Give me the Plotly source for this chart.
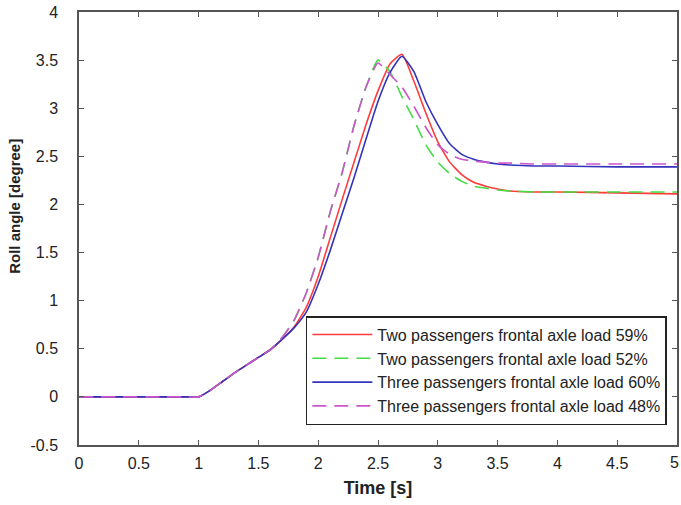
import plotly.graph_objects as go

time = [0.0, 0.9, 1.0, 1.1, 1.2, 1.3, 1.4, 1.5, 1.6, 1.7, 1.8, 1.9, 2.0, 2.1, 2.2, 2.3, 2.4,
        2.5, 2.6, 2.7, 2.8, 2.9, 3.0, 3.1, 3.2, 3.3, 3.4, 3.5, 3.6, 3.8, 4.0, 4.5, 5.0]

two_59 = [0, 0, 0, 0.07, 0.16, 0.25, 0.33, 0.41, 0.49, 0.60, 0.73, 0.93, 1.25, 1.65, 2.05, 2.44, 2.83,
          3.18, 3.46, 3.56, 3.28, 2.95, 2.65, 2.44, 2.31, 2.23, 2.19, 2.16, 2.14, 2.13, 2.13, 2.12, 2.11]
two_52 = [0, 0, 0, 0.07, 0.16, 0.25, 0.33, 0.41, 0.49, 0.62, 0.80, 1.08, 1.45, 1.92, 2.33, 2.82, 3.22,
          3.50, 3.38, 3.12, 2.88, 2.62, 2.44, 2.32, 2.24, 2.19, 2.17, 2.15, 2.14, 2.13, 2.13, 2.13, 2.13]
three_60 = [0, 0, 0, 0.07, 0.16, 0.25, 0.33, 0.41, 0.49, 0.60, 0.72, 0.88, 1.17, 1.52, 1.90, 2.28, 2.68,
            3.07, 3.37, 3.54, 3.38, 3.07, 2.83, 2.63, 2.52, 2.47, 2.44, 2.42, 2.41, 2.40, 2.40, 2.39, 2.39]
three_48 = [0, 0, 0, 0.07, 0.16, 0.25, 0.33, 0.41, 0.49, 0.62, 0.80, 1.08, 1.45, 1.92, 2.33, 2.82, 3.22,
            3.47, 3.35, 3.22, 3.02, 2.80, 2.62, 2.52, 2.47, 2.45, 2.44, 2.43, 2.43, 2.42, 2.42, 2.42, 2.42]

names = ["Two passengers frontal axle load 59%",
         "Two passengers frontal axle load 52%",
         "Three passengers frontal axle load 60%",
         "Three passengers frontal axle load 48%"]

xticks = [0, 0.5, 1, 1.5, 2, 2.5, 3, 3.5, 4, 4.5, 5]
xticklabels = ["0", "0.5", "1", "1.5", "2", "2.5", "3", "3.5", "4", "4.5", ""]
last_xtick = 5
last_xticklabel = "5"
yticks = [-0.5, 0, 0.5, 1, 1.5, 2, 2.5, 3, 3.5, 4]
yticklabels = ["-0.5", "0", "0.5", "1", "1.5", "2", "2.5", "3", "3.5", "4"]

series = [two_59, two_52, three_60, three_48]
colors = ["#ff3b3b", "#44dd44", "#3333bb", "#cc55cc"]
dashes = ["solid", "14px,8px", "solid", "14px,8px"]

FONT = "Liberation Sans, Arial"
TXT = "#222222"

fig = go.Figure()
for vals, name, c, d in zip(series, names, colors, dashes):
    fig.add_trace(go.Scatter(x=time, y=vals, mode="lines", name=name,
                             line=dict(color=c, width=1.6, dash=d, shape="spline", smoothing=0.5)))

axis_common = dict(showgrid=False, zeroline=False, showline=True, linecolor="#555555", linewidth=1.5,
                   mirror="ticks", ticks="inside", ticklen=5, tickcolor="#555555", automargin=False,
                   tickfont=dict(family=FONT, size=16, color=TXT))

fig.update_layout(
    width=681, height=505,
    margin=dict(l=79, r=4, t=12, b=60),
    paper_bgcolor="white", plot_bgcolor="white",
    xaxis=dict(range=[0, 5], tickvals=xticks, ticktext=xticklabels,
               ticklabelstandoff=3,
               title=dict(text="<b>Time [s]</b>", font=dict(family=FONT, size=18, color=TXT), standoff=10),
               **axis_common),
    yaxis=dict(range=[-0.5, 4], tickvals=yticks, ticktext=yticklabels,
               ticklabelstandoff=16,
               **axis_common),
    legend=dict(x=0.983, y=0.046, xanchor="right", yanchor="bottom",
                bgcolor="white", bordercolor="#222222", borderwidth=1.5,
                font=dict(family=FONT, size=16, color=TXT),
                tracegroupgap=0, itemwidth=60),
    showlegend=True,
)

fig.add_annotation(x=-0.107, y=0.55, xref="paper", yref="paper", text="<b>Roll angle [degree]</b>",
                   textangle=-90, showarrow=False, xanchor="center", yanchor="middle",
                   font=dict(family=FONT, size=15, color=TXT))

fig.add_annotation(x=last_xtick, y=0, xref="x", yref="paper", text=last_xticklabel,
                   showarrow=False, xanchor="right", yanchor="top", xshift=4, yshift=-7,
                   font=dict(family=FONT, size=16, color=TXT))

fig.write_html("out.html", config={"displayModeBar": False},
               post_script="document.body.style.margin='0';document.body.style.overflow='hidden';")
